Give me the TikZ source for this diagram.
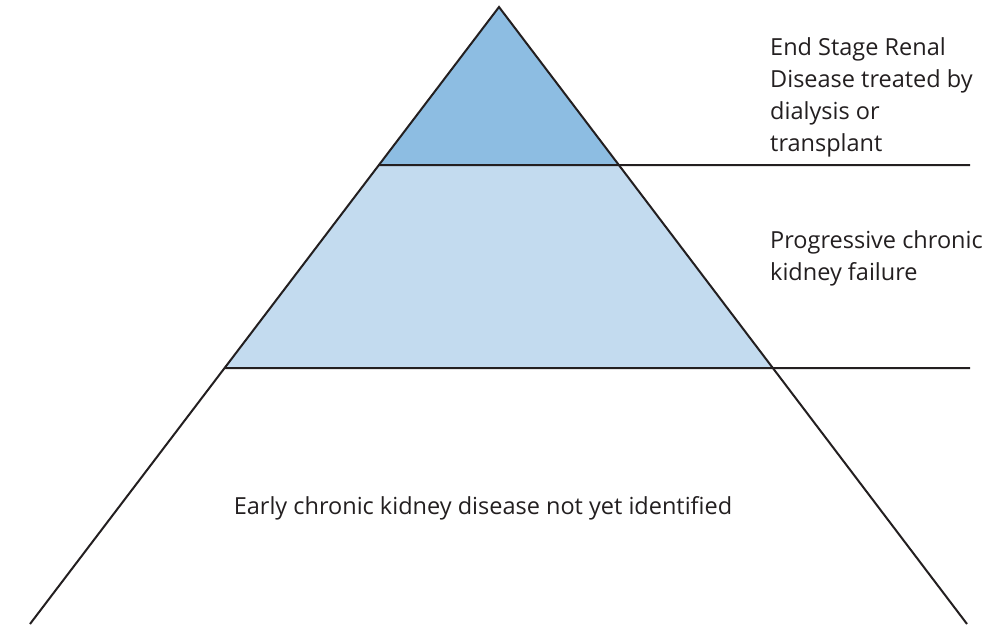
\documentclass[tikz,border=0pt]{standalone}
\usepackage{fontspec}
\setmainfont{Open Sans}
\usetikzlibrary{calc}
\definecolor{topblue}{HTML}{8DBDE2}
\definecolor{midblue}{HTML}{C3DBEF}
\definecolor{ink}{HTML}{231F20}
\tikzset{
  edge/.style={draw=ink, line width=2pt},
  lbl/.style={font=\fontsize{23.5}{32}\selectfont, text=ink, align=left, inner sep=0pt},
}
\begin{document}
\begin{tikzpicture}[x=1pt,y=-1pt]
\useasboundingbox (0,0) rectangle (1001,624);
\clip (0,0) rectangle (1001,624);
\coordinate (apex) at (499,7);
\coordinate (bl) at (30,624);
\coordinate (br) at (967,624);
\coordinate (l1) at ($(apex)!0.2561!(bl)$);
\coordinate (r1) at ($(apex)!0.2561!(br)$);
\coordinate (l2) at ($(apex)!0.5851!(bl)$);
\coordinate (r2) at ($(apex)!0.5851!(br)$);
\coordinate (e1) at (970,165);
\coordinate (e2) at (970,368);
\fill[topblue] (apex) -- (l1) -- (r1) -- cycle;
\fill[midblue] (l1) -- (r1) -- (r2) -- (l2) -- cycle;
\draw[edge] (bl) -- (apex) -- (br);
\draw[edge] (l1) -- (e1);
\draw[edge] (l2) -- (e2);
\node[lbl, anchor=base west] (t1) at (770,151) {End Stage Renal\\Disease treated by\\dialysis or\\transplant};
\node[lbl, anchor=base west] (t2) at (770,280) {Progressive chronic\\kidney failure};
\node[lbl, anchor=base] (t3) at (483,514) {Early chronic kidney disease not yet identified};
\end{tikzpicture}
\end{document}
